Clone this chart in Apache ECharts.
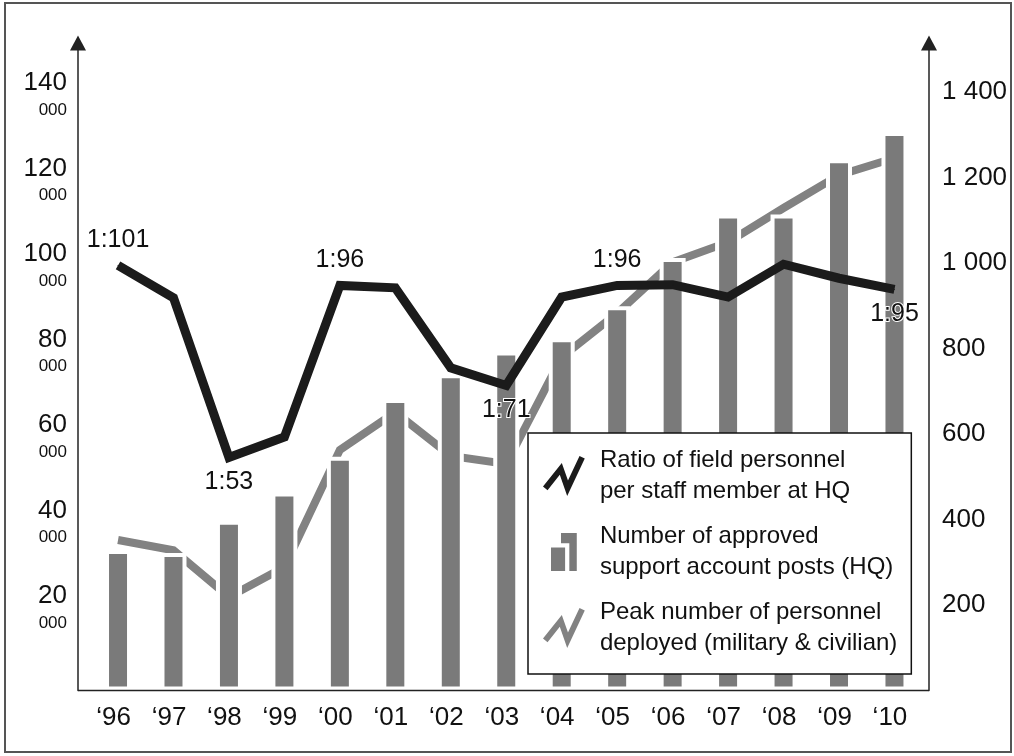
<!DOCTYPE html>
<html>
<head>
<meta charset="utf-8">
<script src="https://cdn.jsdelivr.net/npm/echarts@6/dist/echarts.min.js"></script>
<style>
  html, body { margin: 0; padding: 0; background: #fff; }
  #chart { width: 1014px; height: 756px; }
</style>
</head>
<body>
<div id="chart"></div>
<script>
// ---- data ----
const years = ['‘96', '‘97', '‘98', '‘99', '‘00', '‘01', '‘02', '‘03', '‘04', '‘05', '‘06', '‘07', '‘08', '‘09', '‘10'];
// Number of approved support account posts (HQ) – right axis
const hqPosts = [329, 322, 397, 463, 547, 682, 740, 793, 824, 899, 1012, 1114, 1114, 1243, 1307];
// Peak number of personnel deployed – left axis
const peakPersonnel = [35200, 32800, 21900, 28900, 56300, 65100, 54900, 53000, 78000, 88300, 100200, 104900, 112900, 120600, 124600];
// Ratio of field personnel per HQ staff member (1:x)
const ratio = [101, 92.9, 53, 58.1, 96, 95.4, 75.4, 71, 93.1, 96, 96.2, 93.1, 101.3, 97.8, 95];
// years whose ratio is written on the chart
const labelledYears = ['‘96', '‘98', '‘00', '‘03', '‘05', '‘10'];

const seriesNames = [
  'Ratio of field personnel\nper staff member at HQ',
  'Number of approved\nsupport account posts (HQ)',
  'Peak number of personnel\ndeployed (military & civilian)'
];

// ---- styling ----
const SANS = '"Liberation Sans", Arial, sans-serif';
const INK = '#111';
const BAR = '#7a7a7a';
const GREY_LINE = '#828282';
const BLACK_LINE = '#1b1b1b';

const zigzag = 'path://M0.66,34.1 L20.04,9.89 L26.4,28.05 L38.28,2.73 L43.7,5.27 L25.6,43.95 L17.96,22.1 L5.34,37.9 Z';
const barsIcon = 'path://M9,0 H25 V36 H16.5 V11 H9 Z M0,13 H14.5 V36 H0 Z';

const ratioData = ratio.map((v, i) => {
  const labelled = labelledYears.indexOf(years[i]) >= 0;
  const below = i > 0 && v < ratio[i - 1];
  return {
    value: v,
    label: {
      show: labelled,
      position: below ? 'bottom' : 'top',
      distance: 12,
      formatter: '1:' + Math.round(v)
    }
  };
});

function rightFmt(v) {
  if (v >= 1000) return Math.floor(v / 1000) + ' ' + String(v % 1000).padStart(3, '0');
  return String(v);
}

const axisArrow = { show: true, symbol: ['none', 'triangle'], symbolSize: [16, 15], lineStyle: { color: '#222', width: 1.5 } };

const chart = echarts.init(document.getElementById('chart'), null, { renderer: 'canvas' });
chart.setOption({
  animation: false,
  backgroundColor: '#fff',
  grid: { left: 90.3, right: 91.8, top: 43, bottom: 65.5 },
  xAxis: {
    type: 'category',
    data: years,
    axisLine: { show: false },
    axisTick: { show: false },
    axisLabel: { fontFamily: SANS, fontSize: 26, color: INK, margin: 14, padding: [0, 9, 0, 0] }
  },
  yAxis: [
    {
      type: 'value', position: 'left', offset: 12.3,
      min: 0, max: 151500, interval: 20000,
      splitLine: { show: false },
      axisTick: { show: false },
      axisLine: axisArrow,
      axisLabel: {
        showMinLabel: false, showMaxLabel: false, margin: 11,
        formatter: v => '{a|' + (v / 1000) + '}\n{b|000}',
        rich: {
          a: { fontFamily: SANS, fontSize: 26, lineHeight: 36, align: 'right', color: INK },
          b: { fontFamily: SANS, fontSize: 17, lineHeight: 18, align: 'right', color: INK }
        }
      }
    },
    {
      type: 'value', position: 'right', offset: 6.8,
      min: 0, max: 1515, interval: 200,
      splitLine: { show: false },
      axisTick: { show: false },
      axisLine: axisArrow,
      axisLabel: {
        showMinLabel: false, showMaxLabel: false, margin: 13,
        fontFamily: SANS, fontSize: 26, color: INK,
        formatter: rightFmt
      }
    },
    { type: 'value', show: false, min: -5.25, max: 156.6 }
  ],
  legend: {
    orient: 'vertical', left: 528, top: 433,
    padding: [12, 14, 15, 15], itemGap: 14,
    itemWidth: 44, itemHeight: 40,
    backgroundColor: '#fff', borderColor: INK, borderWidth: 1.5,
    selectedMode: false,
    textStyle: { fontFamily: SANS, fontSize: 24, lineHeight: 31, color: INK, padding: [0, 0, 0, 9] },
    data: [
      { name: seriesNames[0], icon: zigzag, itemStyle: { color: BLACK_LINE } },
      { name: seriesNames[1], icon: barsIcon, itemStyle: { color: BAR } },
      { name: seriesNames[2], icon: zigzag, itemStyle: { color: GREY_LINE } }
    ]
  },
  series: [
    {
      name: seriesNames[2], type: 'line', yAxisIndex: 0, z: 1,
      data: peakPersonnel, symbol: 'none',
      lineStyle: { color: GREY_LINE, width: 8, cap: 'butt', join: 'miter' },
      itemStyle: { color: GREY_LINE }
    },
    {
      name: seriesNames[1], type: 'bar', yAxisIndex: 1, z: 2,
      data: hqPosts, barWidth: 26,
      itemStyle: { color: BAR, borderColor: '#fff', borderWidth: 4 }
    },
    {
      name: seriesNames[0], type: 'line', yAxisIndex: 2, z: 3,
      data: ratioData, symbol: 'circle', symbolSize: 1, showSymbol: true,
      lineStyle: { color: BLACK_LINE, width: 9, cap: 'butt', join: 'miter' },
      itemStyle: { color: BLACK_LINE },
      label: { fontFamily: SANS, fontSize: 25, color: INK, textBorderColor: '#fff', textBorderWidth: 2 }
    }
  ],
  graphic: [
    { type: 'rect', silent: true, z: 100, shape: { x: 5, y: 3, width: 1006, height: 749 }, style: { fill: 'none', stroke: '#555', lineWidth: 2 } },
    { type: 'line', silent: true, z: 100, shape: { x1: 78, y1: 690.5, x2: 929, y2: 690.5 }, style: { stroke: '#222', lineWidth: 1.5 } }
  ]
});
</script>
</body>
</html>
